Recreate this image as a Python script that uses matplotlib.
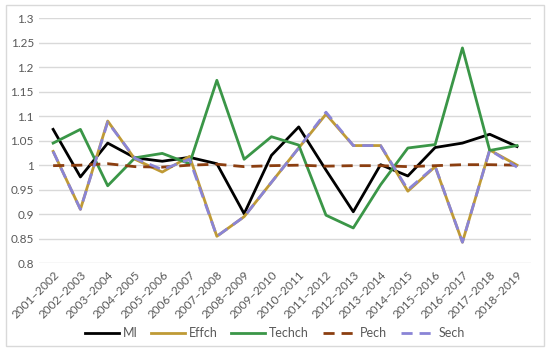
import matplotlib
matplotlib.use("Agg")
import matplotlib.pyplot as plt
from matplotlib.patches import Rectangle

plt.rcParams['font.family'] = ['Lato', 'DejaVu Sans']

periods = ["2001–2002", "2002–2003", "2003–2004", "2004–2005", "2005–2006",
           "2006–2007", "2007–2008", "2008–2009", "2009–2010", "2010–2011",
           "2011–2012", "2012–2013", "2013–2014", "2014–2015", "2015–2016",
           "2016–2017", "2017–2018", "2018–2019"]

mi = [1.073, 0.976, 1.045, 1.015, 1.008, 1.016, 1.003, 0.901, 1.020, 1.078,
      0.990, 0.905, 1.001, 0.978, 1.036, 1.045, 1.063, 1.038]
effch = [1.028, 0.910, 1.090, 1.012, 0.986, 1.018, 0.855, 0.895, 0.965, 1.035,
         1.104, 1.040, 1.040, 0.947, 0.997, 0.843, 1.031, 1.000]
techch = [1.045, 1.073, 0.958, 1.015, 1.024, 1.003, 1.173, 1.012, 1.058, 1.041,
          0.898, 0.872, 0.960, 1.035, 1.042, 1.239, 1.030, 1.040]
pech = [0.999, 1.000, 1.003, 0.997, 0.996, 1.000, 1.002, 0.997, 0.999, 1.000,
        0.998, 0.999, 0.999, 0.997, 0.999, 1.001, 1.001, 1.000]
sech = [1.028, 0.910, 1.088, 1.014, 0.991, 1.012, 0.855, 0.895, 0.965, 1.035,
        1.108, 1.040, 1.040, 0.950, 0.998, 0.843, 1.031, 0.996]

yticks = [0.8, 0.85, 0.9, 0.95, 1, 1.05, 1.1, 1.15, 1.2, 1.25, 1.3]
ytick_labels = ["0.8", "0.85", "0.9", "0.95", "1", "1.05", "1.1", "1.15", "1.2", "1.25", "1.3"]

fig = plt.figure(figsize=(5.5, 3.51), dpi=100)
ax = fig.add_axes([0.0718, 0.2499, 0.893, 0.6988])

x = list(range(len(periods)))
lw = 2.0
ax.plot(x, mi, color="black", lw=lw, label="MI", zorder=3)
ax.plot(x, effch, color="#BF9A35", lw=lw, label="Effch", zorder=3)
ax.plot(x, techch, color="#3A9647", lw=lw, label="Techch", zorder=3)
ax.plot(x, pech, color="#8B3E10", lw=lw, ls=(0, (4, 2.5)), label="Pech", zorder=4)
ax.plot(x, sech, color="#8A84D6", lw=lw, ls=(0, (4, 2.5)), label="Sech", zorder=4)

ax.set_xlim(-0.5, len(periods) - 0.5)
ax.set_ylim(0.8, 1.3)
ax.set_yticks(yticks)
ax.set_yticklabels(ytick_labels)
ax.set_xticks(x)
ax.set_xticklabels(periods, rotation=45, ha="right", rotation_mode="anchor")
ax.grid(axis="y", color="#D9D9D9", lw=1)
ax.set_axisbelow(True)
for s in ax.spines.values():
    s.set_visible(False)
ax.tick_params(axis="both", length=0, labelsize=8.5, colors="#595959", pad=4)

fig.legend(loc="center", bbox_to_anchor=(0.5, 0.051), ncol=5, frameon=False,
           handlelength=2.7, columnspacing=1.1, handletextpad=0.3,
           fontsize=9, labelcolor="#595959")

fig.patches.append(Rectangle((6 / 550, 5 / 351), 538 / 550, 341 / 351,
                             transform=fig.transFigure, fill=False,
                             edgecolor="#D9D9D9", lw=1))

fig.savefig("out.png", dpi=100)
